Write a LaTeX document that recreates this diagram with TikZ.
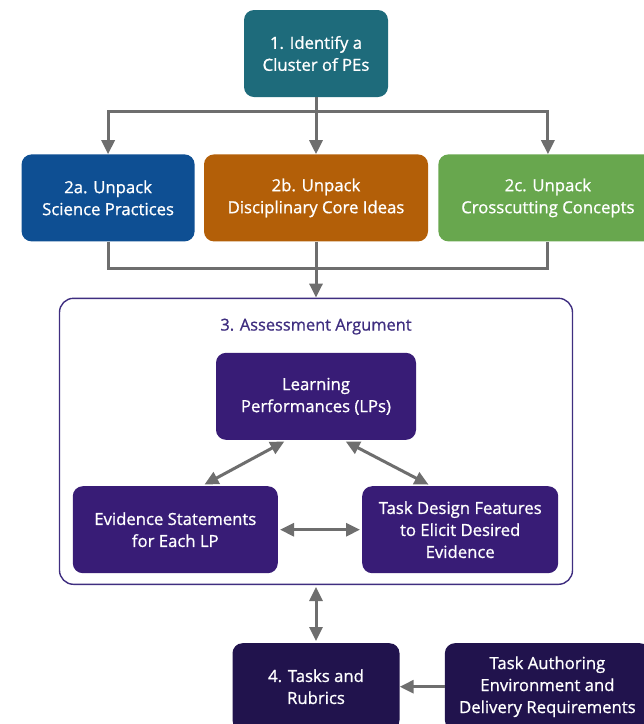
\documentclass[tikz,border=0pt]{standalone}
\usepackage{fontspec}
\setmainfont{Open Sans}[BoldFont={Open Sans}, BoldFeatures={FakeBold=0.9}]
\usetikzlibrary{positioning, arrows.meta}

\definecolor{clustercol}{HTML}{1E6B7B}
\definecolor{practcol}{HTML}{0E4F93}
\definecolor{dcicol}{HTML}{B35F08}
\definecolor{cccol}{HTML}{68A74E}
\definecolor{argcol}{HTML}{381C76}
\definecolor{framecol}{HTML}{3F2E80}
\definecolor{taskcol}{HTML}{21134D}
\definecolor{linkgray}{HTML}{6E6E6E}

\begin{document}
\begin{tikzpicture}[
		x=1pt, y=1pt,
		>={Triangle[length=14pt, width=13pt]},
		stepbox/.style={rounded corners=10pt, minimum height=87pt, inner sep=0pt, align=center, text=white, font=\fontsize{16.7}{22}\selectfont\bfseries},
		frame/.style={draw=framecol, line width=1.4pt, rounded corners=14pt, fill=white, minimum width=513pt, minimum height=286pt},
		argtitle/.style={text=framecol, font=\fontsize{16.4}{22}\selectfont\bfseries},
		flow/.style={draw=linkgray, line width=3pt}
		]
		\useasboundingbox (0,0) rectangle (644,-724);
		
		% ==========================================
		% STEP 1 AND STEP 2
		% ==========================================
		
		\node[stepbox, fill=clustercol, minimum width=144pt] (Cluster) at (316,-53.5) {1. Identify a\\Cluster of PEs};
		
		\node[stepbox, fill=dcicol, minimum width=224pt, below=57pt of Cluster] (DCI) {2b. Unpack\\Disciplinary Core Ideas};
		\node[stepbox, fill=practcol, minimum width=173pt, left=9pt of DCI] (Practices) {2a. Unpack\\Science Practices};
		\node[stepbox, fill=cccol, minimum width=219pt, right=10pt of DCI] (Crosscut) {2c. Unpack\\Crosscutting Concepts};
		
		\draw[flow] (Cluster.south) -- ++(0,-14) coordinate (split);
		\draw[flow, ->] (split) -| (Practices.north);
		\draw[flow, ->] (split) -| (Crosscut.north);
		\draw[flow, ->] (split) -- (DCI.north);
		
		% ==========================================
		% STEP 3: ASSESSMENT ARGUMENT
		% ==========================================
		
		\node[frame, below=56pt of DCI] (Argument) {};
		\node[argtitle] (ArgTitle) at ([yshift=-29pt]Argument.north) {3. Assessment Argument};
		
		\coordinate (join) at ([yshift=-27pt]DCI.south);
		\draw[flow] (Practices.south) |- (join) -| (Crosscut.south);
		\draw[flow, ->] (DCI.south) -- (Argument.north);
		
		\node[stepbox, fill=argcol, minimum width=200pt, below=55pt of Argument.north] (LP) {Learning\\Performances (LPs)};
		\node[stepbox, fill=argcol, minimum width=205pt, anchor=north east] (Evidence) at ([xshift=-38pt, yshift=-46pt]LP.south) {Evidence Statements\\for Each LP};
		\node[stepbox, fill=argcol, minimum width=196pt, anchor=north west] (Design) at ([xshift=46pt, yshift=-46pt]LP.south) {Task Design Features\\to Elicit Desired\\Evidence};
		
		\draw[flow, <->, shorten <=3pt, shorten >=3pt] ([xshift=-29pt]LP.south) -- ([xshift=26.5pt]Evidence.north);
		\draw[flow, <->, shorten <=3pt, shorten >=3pt] ([xshift=27pt]LP.south) -- ([xshift=-29pt]Design.north);
		\draw[flow, <->, shorten <=2pt, shorten >=2pt] (Evidence.east) -- (Design.west);
		
		% ==========================================
		% STEP 4
		% ==========================================
		
		\node[stepbox, fill=taskcol, minimum width=167pt, below=58pt of Argument] (Tasks) {4. Tasks and\\Rubrics};
		\node[stepbox, fill=taskcol, minimum width=205pt, right=45pt of Tasks] (Authoring) {Task Authoring\\Environment and\\Delivery Requirements};
		
		\draw[flow, <->, shorten <=2pt, shorten >=2pt] (Argument.south) -- (Tasks.north);
		\draw[flow, ->] (Authoring.west) -- (Tasks.east);
		
	\end{tikzpicture}
\end{document}
